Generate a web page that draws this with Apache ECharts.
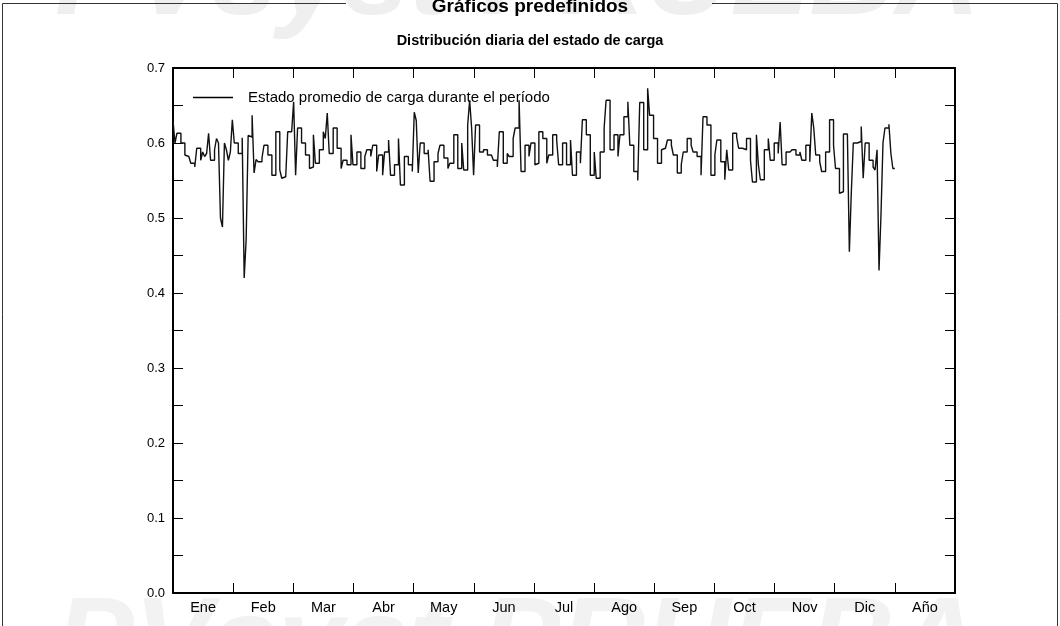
<!DOCTYPE html>
<html>
<head>
<meta charset="utf-8">
<script src="https://cdn.jsdelivr.net/npm/echarts@6/dist/echarts.min.js"></script>
<style>
html,body{margin:0;padding:0;background:#fff;}
#chart{width:1060px;height:626px;}
</style>
</head>
<body>
<div id="chart"></div>
<script>
// ---- data ----
const categories = ['Ene','Feb','Mar','Abr','May','Jun','Jul','Ago','Sep','Oct','Nov','Dic','Año'];
const seriesName = 'Estado promedio de carga durante el período';
const titleMain = 'Gráficos predefinidos';
const titleSub = 'Distribución diaria del estado de carga';

const jan = [0.63,0.60,0.613,0.613,0.60,0.60,0.584,0.582,0.582,0.573,0.573,0.568,0.593,0.593,0.577,0.588,0.582,0.586,0.613,0.577,0.577,0.591,0.606,0.60,0.50,0.488,0.60,0.591,0.577,0.588,0.631];
const feb = [0.60,0.60,0.586,0.586,0.607,0.42,0.472,0.61,0.608,0.637,0.56,0.578,0.575,0.575,0.58,0.597,0.597,0.584,0.584,0.557,0.557,0.615,0.615,0.564,0.553,0.555,0.553,0.615];
const mar = [0.615,0.615,0.655,0.557,0.62,0.62,0.60,0.60,0.584,0.584,0.566,0.568,0.611,0.573,0.573,0.591,0.591,0.615,0.606,0.64,0.586,0.586,0.62,0.62,0.593,0.593,0.566,0.577,0.577,0.571,0.571];
const apr = [0.611,0.571,0.571,0.588,0.588,0.566,0.566,0.582,0.591,0.591,0.582,0.597,0.597,0.562,0.584,0.584,0.557,0.588,0.588,0.604,0.557,0.557,0.571,0.571,0.606,0.544,0.544,0.582,0.582,0.571];
const may = [0.571,0.562,0.641,0.63,0.56,0.60,0.60,0.586,0.586,0.591,0.549,0.549,0.575,0.575,0.586,0.597,0.597,0.58,0.58,0.566,0.573,0.573,0.611,0.611,0.566,0.566,0.60,0.564,0.564,0.624,0.657];
const jun = [0.62,0.557,0.624,0.624,0.588,0.588,0.591,0.591,0.584,0.584,0.584,0.577,0.577,0.568,0.615,0.615,0.573,0.573,0.586,0.582,0.582,0.606,0.62,0.62,0.657,0.562,0.562,0.597,0.597,0.582];
const jul = [0.60,0.60,0.571,0.573,0.615,0.615,0.606,0.606,0.573,0.584,0.584,0.611,0.611,0.604,0.571,0.571,0.60,0.60,0.571,0.571,0.604,0.557,0.557,0.588,0.588,0.573,0.631,0.631,0.611,0.611,0.557];
const aug = [0.557,0.588,0.553,0.553,0.588,0.588,0.62,0.657,0.657,0.591,0.591,0.611,0.611,0.582,0.611,0.611,0.635,0.635,0.655,0.597,0.597,0.562,0.562,0.55,0.654,0.654,0.591,0.591,0.673,0.637,0.637];
const sep = [0.606,0.606,0.573,0.573,0.591,0.593,0.593,0.604,0.604,0.597,0.584,0.584,0.56,0.56,0.571,0.588,0.588,0.606,0.606,0.597,0.588,0.588,0.582,0.582,0.557,0.635,0.635,0.624,0.624,0.557];
const oct = [0.557,0.584,0.604,0.604,0.575,0.575,0.551,0.591,0.564,0.564,0.613,0.613,0.608,0.593,0.593,0.591,0.591,0.606,0.606,0.577,0.548,0.548,0.611,0.571,0.551,0.551,0.591,0.591,0.606,0.577,0.577];
const nov = [0.60,0.60,0.586,0.628,0.571,0.571,0.588,0.588,0.586,0.591,0.591,0.584,0.584,0.588,0.577,0.577,0.597,0.597,0.575,0.64,0.62,0.584,0.584,0.575,0.562,0.562,0.588,0.588,0.631,0.631];
const dec = [0.597,0.566,0.566,0.533,0.535,0.612,0.612,0.611,0.455,0.535,0.60,0.60,0.60,0.602,0.622,0.553,0.60,0.60,0.577,0.577,0.568,0.564,0.591,0.43,0.505,0.60,0.62,0.62,0.625,0.586,0.566];

const daily = [].concat(jan,feb,mar,apr,may,jun,jul,aug,sep,oct,nov,dec);
const nDays = daily.length; // 365
// step line: each day is a flat segment from its start to its end (x in month units)
const lineData = [];
daily.forEach((v,i)=>{
  lineData.push([i*12/nDays, v]);
  lineData.push([(i+1)*12/nDays, v]);
});

const chart = echarts.init(document.getElementById('chart'), null, {renderer:'canvas'});
const font = 'Liberation Sans, Arial, sans-serif';
const axisCommon = {
  axisLine:{show:true, onZero:false, lineStyle:{color:'#000', width:2}},
  axisTick:{show:true, inside:true, length:10, lineStyle:{color:'#000', width:1}},
  splitLine:{show:false}
};
const yLabel = v => (Math.abs(v*10 - Math.round(v*10)) < 1e-6) ? v.toFixed(1) : '';

chart.setOption({
  animation:false,
  backgroundColor:'#fff',
  textStyle:{fontFamily:font},
  title:[
    {text:titleMain, left:'center', top:-8, textStyle:{fontSize:19, fontWeight:'bold', color:'#000', fontFamily:font}},
    {text:titleSub, left:'center', top:28, textStyle:{fontSize:14.5, fontWeight:'bold', color:'#000', fontFamily:font}}
  ],
  legend:{
    show:true, left:188, top:85, orient:'vertical',
    icon:'rect', itemWidth:40, itemHeight:1.5,
    textStyle:{fontSize:15, color:'#000', fontFamily:font, padding:[0,0,0,10]},
    data:[{name:seriesName, itemStyle:{color:'#000'}}]
  },
  grid:{left:173, right:105, top:68, bottom:33, containLabel:false},
  xAxis:[
    Object.assign({type:'category', data:categories, position:'bottom', boundaryGap:true,
      axisLabel:{show:true, color:'#000', fontSize:14.5, margin:7, fontFamily:font}}, axisCommon),
    Object.assign({type:'category', data:categories, position:'top', boundaryGap:true,
      axisLabel:{show:false}}, axisCommon),
    {type:'value', min:0, max:13, show:false}
  ],
  yAxis:[
    Object.assign({type:'value', min:0, max:0.7, interval:0.05, position:'left',
      axisLabel:{show:true, color:'#000', fontSize:13, margin:8, formatter:yLabel, fontFamily:font}}, axisCommon),
    Object.assign({type:'value', min:0, max:0.7, interval:0.05, position:'right',
      axisLabel:{show:false}}, axisCommon)
  ],
  graphic:[
    {type:'text', left:55, top:-78, z:-10, silent:true,
      style:{text:'PVsyst PRUEBA', font:'italic bold 118px Liberation Sans, Arial, sans-serif', fill:'#efefef'}},
    {type:'text', left:55, top:588, z:-10, silent:true,
      style:{text:'PVsyst PRUEBA', font:'italic bold 118px Liberation Sans, Arial, sans-serif', fill:'#f2f2f2'}},
    {type:'line', shape:{x1:2.5, y1:3.5, x2:346, y2:3.5}, style:{stroke:'#333', lineWidth:1}},
    {type:'line', shape:{x1:712, y1:3.5, x2:1057.5, y2:3.5}, style:{stroke:'#333', lineWidth:1}},
    {type:'line', shape:{x1:2.5, y1:3.5, x2:2.5, y2:626}, style:{stroke:'#333', lineWidth:1}},
    {type:'line', shape:{x1:1057.5, y1:3.5, x2:1057.5, y2:626}, style:{stroke:'#333', lineWidth:1}}
  ],
  series:[{
    name:seriesName, type:'line', xAxisIndex:2, yAxisIndex:0,
    showSymbol:false, symbol:'none',
    lineStyle:{color:'#111', width:1.4},
    itemStyle:{color:'#000'},
    data:lineData
  }]
});
</script>
</body>
</html>
